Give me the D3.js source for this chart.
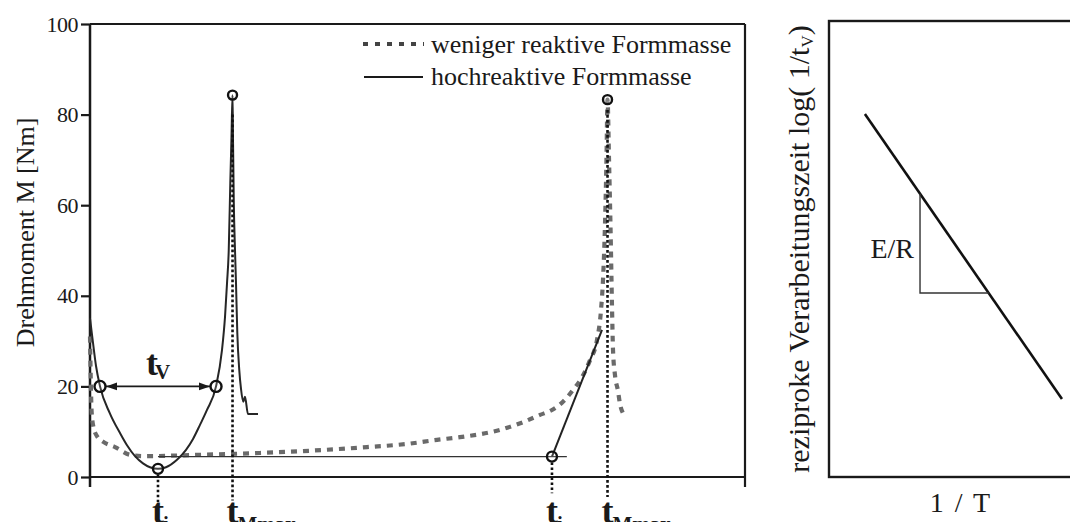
<!DOCTYPE html>
<html>
<head>
<meta charset="utf-8">
<script src="https://cdn.jsdelivr.net/npm/d3@7"></script>
<style>
  html, body { margin: 0; padding: 0; background: #fff; }
  svg { display: block; }
  svg text { font-family: "Liberation Serif", "Times New Roman", "DejaVu Serif", serif; }
</style>
</head>
<body>
<svg id="chart" width="1070" height="522"></svg>
<script>
// ---- Torque over time (time in arbitrary units, torque in Nm) ----
const torqueTicks = [0, 20, 40, 60, 80, 100];

// highly reactive compound: viscosity minimum, then sharp cure peak
const fastTime = [0, 0.46, 0.92, 1.53, 3.05, 4.58, 5.65, 6.87, 8.09, 9.16, 10.38, 11.6,
  13.28, 14.66, 15.73, 16.79, 17.86, 19.24,
  20.15, 20.61, 20.92, 21.18, 21.42, 21.60, 21.76, 21.83, 21.95, 22.14, 22.29, 22.49,
  22.79, 23.05, 23.40, 23.66, 24.12, 25.65];
const fastTorque = [35, 29.6, 24.5, 20, 14, 9.7, 7.0, 4.6, 3.0, 2.15, 1.8, 2.15,
  3.8, 6.0, 8.4, 11.5, 14.8, 20,
  28, 35.3, 42.8, 50, 65, 75, 84.3, 75, 61, 50, 42.8, 31.8,
  23.6, 19.5, 16.6, 17.7, 13.9, 13.9];

// less reactive compound: long flat plateau, late cure peak
const slowTime = [0, 0.11, 0.23, 0.46, 1.07, 1.98, 3.82, 6.11, 8.09, 16.79, 25.95, 33.59,
  42.29, 48.4, 52.98, 56.49, 62.6, 66.11, 68.7, 70.53, 72.21, 73.74, 75.11, 76.34,
  77.4, 78.02, 78.32, 78.63, 78.85, 79.01, 79.24, 79.47, 79.69, 79.85, 80.15, 80.61,
  80.92, 81.37];
const slowTorque = [31, 22, 15, 11.5, 9.0, 7.8, 6.6, 4.9, 4.6, 4.9, 5.3, 5.8,
  6.6, 7.3, 8.2, 8.8, 10.4, 12.1, 13.7, 14.8, 16.6, 19.2, 22, 25.8,
  30.2, 36.9, 43.5, 56, 70, 83.3, 70, 55, 38, 28, 22.5, 19.0,
  16.1, 14.1];

// construction lines for the onset of cure
const minLevelTime = [10.38, 72.8];
const minLevelTorque = [4.5, 4.5];
const tangentTime = [70.53, 78.17];
const tangentTorque = [4.5, 32.5];

// highlighted points
const markerTime = [1.53, 19.24, 10.38, 21.76, 70.53, 79.01];
const markerTorque = [20, 20, 1.8, 84.3, 4.5, 83.3];
const markerRadius = [5.5, 5.5, 5, 4.5, 5, 4.5];

// dotted guides down to the time axis
const guideTime = [10.38, 21.76, 70.53, 79.01];
const guideFrom = [0.5, 80, 3.2, 81];
const guideTo = [-5.5, -5.2, -3.6, -4.4];
const guideSub = ["i", "Mmax", "i", "Mmax"];

// processing time span t_V
const tvTime = [1.53, 19.24];
const tvTorque = 20;

const legendLabels = ["weniger reaktive Formmasse", "hochreaktive Formmasse"];

// ---- Arrhenius plot (normalised axes) ----
const arrX = [0.146, 0.947];
const arrY = [0.796, 0.171];
const slopeCornerX = 0.37;
const slopeCornerY = 0.4035;

const serif = "'Liberation Serif', 'Times New Roman', 'DejaVu Serif', serif";
const svg = d3.select("#chart");
const ink = "#1a1a1a";
const grey = "#6a6a6a";

// ===== left panel =====
const x = d3.scaleLinear().domain([0, 100]).range([90, 745]);
const y = d3.scaleLinear().domain([0, 100]).range([477, 24]);

const left = svg.append("g");

// frame
left.append("line").attr("x1", x(0)).attr("x2", x(100)).attr("y1", y(100)).attr("y2", y(100))
  .attr("stroke", ink).attr("stroke-width", 2.2);
left.append("line").attr("x1", x(0)).attr("x2", x(100)).attr("y1", y(0)).attr("y2", y(0))
  .attr("stroke", ink).attr("stroke-width", 2.2);
left.append("line").attr("x1", x(0)).attr("x2", x(0)).attr("y1", y(100)).attr("y2", y(-2.2))
  .attr("stroke", ink).attr("stroke-width", 2.5);
left.append("line").attr("x1", x(100)).attr("x2", x(100)).attr("y1", y(100)).attr("y2", y(-2.2))
  .attr("stroke", ink).attr("stroke-width", 2.2);

// y axis
const yAxis = left.append("g").attr("transform", `translate(${x(0)},0)`)
  .call(d3.axisLeft(y).tickValues(torqueTicks).tickSize(9).tickPadding(3));
yAxis.attr("font-family", serif);
yAxis.select(".domain").remove();
yAxis.selectAll(".tick line").attr("stroke", ink).attr("stroke-width", 2.2);
yAxis.selectAll(".tick text").attr("fill", ink).attr("font-size", 22)
  .style("font-family", serif).attr("letter-spacing", -0.5);

left.append("text")
  .attr("transform", `translate(34,${y(54)}) rotate(-90)`)
  .attr("text-anchor", "middle").attr("font-size", 26).attr("fill", ink)
  .style("font-family", serif)
  .text("Drehmoment M [Nm]");

const line = d3.line().x(d => x(d[0])).y(d => y(d[1]));

// less reactive compound (dotted grey)
left.append("path")
  .datum(d3.zip(slowTime, slowTorque))
  .attr("d", line.curve(d3.curveMonotoneX))
  .attr("fill", "none").attr("stroke", grey).attr("stroke-width", 4.2)
  .attr("stroke-dasharray", "6 6");

// construction lines
left.append("path").datum(d3.zip(minLevelTime, minLevelTorque))
  .attr("d", line.curve(d3.curveLinear))
  .attr("fill", "none").attr("stroke", "#333").attr("stroke-width", 1.4);
left.append("path").datum(d3.zip(tangentTime, tangentTorque))
  .attr("d", line.curve(d3.curveLinear))
  .attr("fill", "none").attr("stroke", "#222").attr("stroke-width", 2);

// highly reactive compound (solid)
left.append("path")
  .datum(d3.zip(fastTime, fastTorque))
  .attr("d", line.curve(d3.curveMonotoneX))
  .attr("fill", "none").attr("stroke", "#262626").attr("stroke-width", 2)
  .attr("stroke-linejoin", "round");

// dotted guides
guideTime.forEach((t, i) => {
  left.append("line")
    .attr("x1", x(t)).attr("x2", x(t))
    .attr("y1", y(guideFrom[i])).attr("y2", y(guideTo[i]))
    .attr("stroke", "#111").attr("stroke-width", 2.6)
    .attr("stroke-dasharray", "2.6 2.4");
});

// t_V span with arrows
const defs = svg.append("defs");
defs.append("marker").attr("id", "arrow").attr("viewBox", "0 0 10 10")
  .attr("refX", 10).attr("refY", 5).attr("markerWidth", 7).attr("markerHeight", 7)
  .attr("orient", "auto-start-reverse")
  .append("path").attr("d", "M0,1.5 L10,5 L0,8.5 Z").attr("fill", ink);
left.append("line")
  .attr("x1", x(tvTime[0]) + 6).attr("x2", x(tvTime[1]) - 6)
  .attr("y1", y(tvTorque)).attr("y2", y(tvTorque))
  .attr("stroke", ink).attr("stroke-width", 1.6)
  .attr("marker-start", "url(#arrow)").attr("marker-end", "url(#arrow)");
const tv = left.append("text")
  .attr("x", x(tvTime[0]) + 46).attr("y", y(tvTorque) - 11)
  .style("font-family", serif)
  .attr("font-weight", "bold").attr("font-size", 36).attr("fill", ink);
tv.append("tspan").text("t");
tv.append("tspan").attr("font-size", 21).attr("dx", -3).attr("dy", 4).text("V");

// markers
markerTime.forEach((t, i) => {
  left.append("circle")
    .attr("cx", x(t)).attr("cy", y(markerTorque[i])).attr("r", markerRadius[i])
    .attr("fill", "#fff").attr("fill-opacity", 0.15)
    .attr("stroke", "#111").attr("stroke-width", 2.4);
});

// time labels under the guides
guideTime.forEach((t, i) => {
  const lab = left.append("text")
    .attr("x", x(t) - 6).attr("y", 523)
    .style("font-family", serif)
    .attr("font-weight", "bold").attr("font-size", 36).attr("fill", ink);
  lab.append("tspan").text("t");
  lab.append("tspan").attr("font-size", 21).attr("dx", -1).attr("dy", 8).text(guideSub[i]);
});

// legend
const legend = left.append("g");
legend.append("line").attr("x1", 363).attr("x2", 424).attr("y1", 44).attr("y2", 44)
  .attr("stroke", "#444").attr("stroke-width", 4).attr("stroke-dasharray", "5 7");
legend.append("line").attr("x1", 364).attr("x2", 423).attr("y1", 77).attr("y2", 77)
  .attr("stroke", ink).attr("stroke-width", 2);
legendLabels.forEach((s, i) => {
  legend.append("text").attr("x", 431).attr("y", 53 + i * 32)
    .style("font-family", serif)
    .attr("font-size", 26).attr("fill", ink).text(s);
});

// ===== right panel =====
const xr = d3.scaleLinear().domain([0, 1]).range([829, 1075]);
const yr = d3.scaleLinear().domain([0, 1]).range([477, 21]);
const right = svg.append("g");

right.append("rect")
  .attr("x", xr(0)).attr("y", yr(1))
  .attr("width", xr(1) - xr(0)).attr("height", yr(0) - yr(1))
  .attr("fill", "none").attr("stroke", ink).attr("stroke-width", 2.4);

const arrLine = d3.line().x(d => xr(d[0])).y(d => yr(d[1]));
right.append("path").datum(d3.zip(arrX, arrY))
  .attr("d", arrLine).attr("fill", "none").attr("stroke", "#111").attr("stroke-width", 2.6);

// slope triangle
const lineAt = d3.scaleLinear().domain(arrX).range(arrY);
const yAtCorner = lineAt(slopeCornerX);
const xAtCorner = lineAt.invert(slopeCornerY);
right.append("path")
  .datum([[slopeCornerX, yAtCorner], [slopeCornerX, slopeCornerY], [xAtCorner, slopeCornerY]])
  .attr("d", arrLine).attr("fill", "none").attr("stroke", "#333").attr("stroke-width", 1.4);

right.append("text").attr("x", xr(slopeCornerX) - 6)
  .attr("y", (yr(yAtCorner) + yr(slopeCornerY)) / 2 + 15)
  .style("font-family", serif)
  .attr("text-anchor", "end").attr("font-size", 28).attr("fill", ink).text("E/R");

right.append("text").attr("x", 960).attr("y", 512)
  .style("font-family", serif)
  .attr("text-anchor", "middle").attr("font-size", 28).attr("fill", ink)
  .attr("word-spacing", 4).text("1 / T");

const ylab = right.append("text")
  .attr("transform", `translate(809,${(yr(0) + yr(1)) / 2}) rotate(-90)`)
  .style("font-family", serif)
  .attr("text-anchor", "middle").attr("font-size", 30).attr("fill", ink);
ylab.append("tspan").text("reziproke Verarbeitungszeit log( 1/t");
ylab.append("tspan").attr("font-size", 17).attr("dy", 4).text("V");
ylab.append("tspan").attr("dy", -4).text(")");
</script>
</body>
</html>
